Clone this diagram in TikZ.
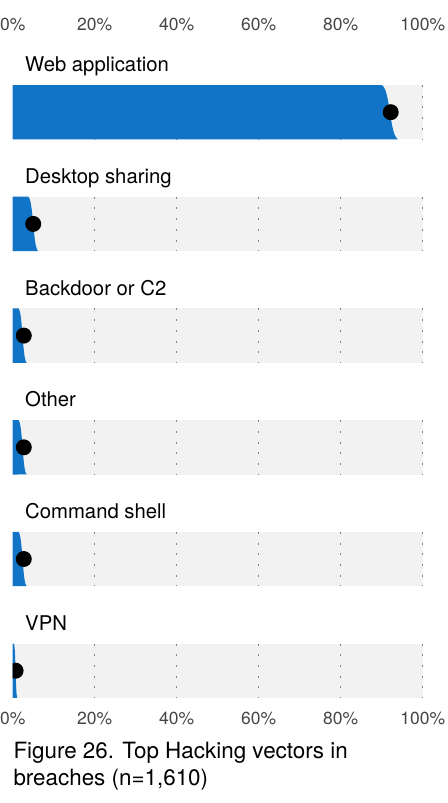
\documentclass[tikz,border=0pt]{standalone}
\usepackage{fontspec}
\setmainfont{TeX Gyre Heros}
\definecolor{barblue}{HTML}{1174C6}
\definecolor{bargray}{HTML}{F2F2F2}
\definecolor{axisgray}{HTML}{454545}
\definecolor{dotgray}{HTML}{858585}

\begin{document}
\begin{tikzpicture}[x=4.1pt,y=-1pt,
  vlabel/.style={anchor=base west,inner sep=0pt,font=\fontsize{20.3}{23}\selectfont},
  ticklab/.style={anchor=base,inner sep=0pt,text=axisgray,font=\fontsize{17.5}{20}\selectfont},
  caption/.style={anchor=base west,inner sep=0pt,font=\fontsize{22.4}{26}\selectfont},
  gridline/.style={draw=dotgray,line width=1.3pt,dash pattern=on 2pt off 8.7pt},
  meanpt/.style={fill=black}]
\useasboundingbox (-3.1,0) rectangle (105.93,803);
% axis labels, top and bottom
\foreach \p in {0,20,...,100}{
  \node[ticklab] (top\p) at (\p,30){\p\%};
  \node[ticklab] (bot\p) at (\p,724){\p\%};
}
% one bar per vector: name/label/top/centre/half width/mean
\foreach \nm/\lab/\ty/\cen/\hw/\mean in {web/Web application/85/92.0/2.0/92.2,
    desk/Desktop sharing/196.7/5.0/1.2/5.0, back/Backdoor or C2/308.4/2.4/1.0/2.7,
    other/Other/420.1/2.4/1.0/2.7, shell/Command shell/531.8/2.4/1.0/2.7,
    vpn/VPN/643.5/0.7/0.4/0.7}{
  \node[vlabel] (lab-\nm) at (3,\ty-13.3){\lab};
  \fill[bargray] (0,\ty) rectangle (100,\ty+54.4);
  \foreach \p in {20,40,60,80,100}
    \draw[gridline] (\p,\ty) -- (\p,\ty+54.4);
  \begin{scope}
    \clip (0,\ty) rectangle (100,\ty+54.4);
    \fill[barblue] (0,\ty) -- plot[domain=-0.95:0.95,samples=41]
      ({\cen+\hw*0.5*ln((1+\x)/(1-\x))/1.832},{\ty+27.2+\x*27.2/0.95}) -- (0,\ty+54.4) -- cycle;
    \fill[meanpt] (\mean,\ty+27.2) circle[radius=8pt];
  \end{scope}
}
\node[caption] (cap1) at (0.15,758.3){Figure 26. Top Hacking vectors in};
\node[caption] (cap2) at (0.15,785){breaches (n=1,610)};
\end{tikzpicture}
\end{document}
